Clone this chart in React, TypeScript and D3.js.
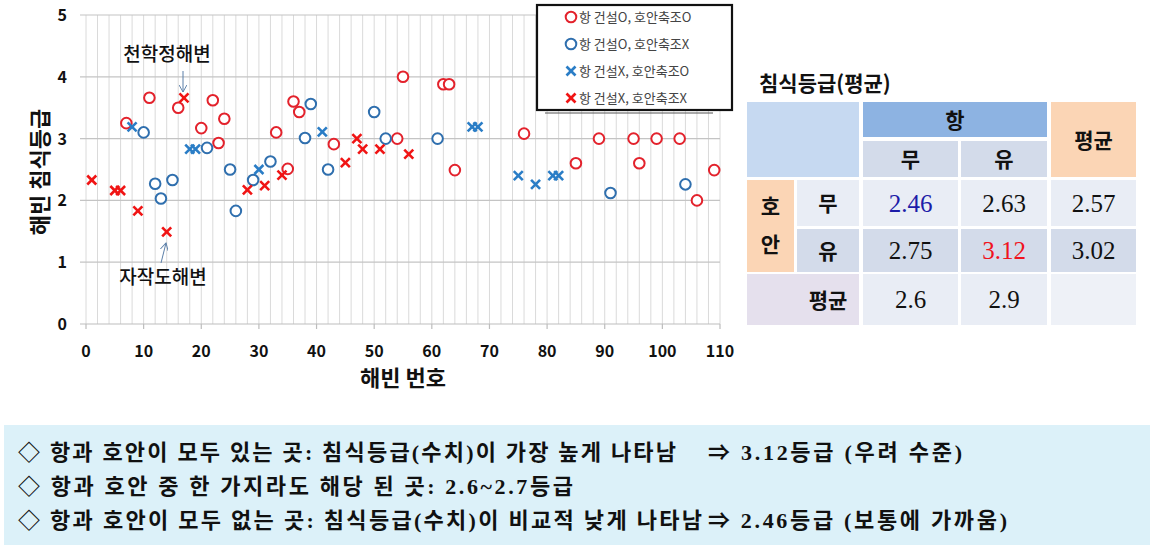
import React from "react";
import * as d3 from "d3";

// ---- data ----
const redCircleX = [7, 11, 16, 20, 22, 23, 24, 33, 35, 36, 37, 43, 54, 55, 62, 63, 64, 76, 85, 89, 95, 96, 99, 103, 106, 109];
const redCircleY = [3.25, 3.66, 3.5, 3.17, 3.62, 2.93, 3.32, 3.1, 2.51, 3.6, 3.43, 2.91, 3.0, 4.0, 3.88, 3.88, 2.49, 3.08, 2.6, 3.0, 3.0, 2.6, 3.0, 3.0, 2.0, 2.49];
const blueCircleX = [10, 12, 13, 15, 21, 25, 26, 29, 32, 38, 39, 42, 50, 52, 61, 91, 104];
const blueCircleY = [3.1, 2.27, 2.03, 2.33, 2.85, 2.5, 1.83, 2.33, 2.63, 3.01, 3.56, 2.5, 3.43, 3.0, 3.0, 2.12, 2.26];
const blueCrossX = [8, 18, 19, 30, 41, 67, 68, 75, 78, 81, 82];
const blueCrossY = [3.19, 2.83, 2.83, 2.5, 3.11, 3.19, 3.19, 2.4, 2.26, 2.4, 2.4];
const redCrossX = [1, 5, 6, 9, 14, 17, 28, 31, 34, 45, 47, 48, 51, 56];
const redCrossY = [2.33, 2.16, 2.16, 1.83, 1.49, 3.66, 2.17, 2.24, 2.41, 2.61, 3.0, 2.83, 2.83, 2.75];

const legendLabels = ["항 건설O, 호안축조O", "항 건설O, 호안축조X", "항 건설X, 호안축조O", "항 건설X, 호안축조X"];
const xTicks = [0, 10, 20, 30, 40, 50, 60, 70, 80, 90, 100, 110];
const yTicks = [0, 1, 2, 3, 4, 5];

const tableTitle = "침식등급(평균)";
const tableValues = [
  ["2.46", "2.63", "2.57"],
  ["2.75", "3.12", "3.02"],
  ["2.6", "2.9", ""],
];
const notes = [
  "◇ 항과 호안이 모두 있는 곳: 침식등급(수치)이 가장 높게 나타남",
  "◇ 항과 호안 중 한 가지라도 해당 된 곳: 2.6~2.7등급",
  "◇ 항과 호안이 모두 없는 곳: 침식등급(수치)이 비교적 낮게 나타남",
];
const noteTails = ["⇒ 3.12등급 (우려 수준)", "", "⇒ 2.46등급 (보통에 가까움)"];

const KR = "'Noto Sans CJK KR', 'Noto Sans', sans-serif";
const SERIF = "'Liberation Serif', 'DejaVu Serif', serif";
const NOTE_FONT = "'Liberation Serif', 'Noto Sans CJK KR', serif";

const RED_C = "#e3222c";
const RED_X = "#f01414";
const BLUE_C = "#2f6fae";
const BLUE_X = "#2a7dc6";

function Circle({ cx, cy, color }: { cx: number; cy: number; color: string }) {
  return <circle cx={cx} cy={cy} r={5.3} fill="white" stroke={color} strokeWidth={2} />;
}
function Cross({ cx, cy, color }: { cx: number; cy: number; color: string }) {
  const s = 4.5;
  return (
    <g stroke={color} strokeWidth={2.6}>
      <line x1={cx - s} y1={cy - s} x2={cx + s} y2={cy + s} />
      <line x1={cx - s} y1={cy + s} x2={cx + s} y2={cy - s} />
    </g>
  );
}

export default function App() {
  const x = d3.scaleLinear().domain([0, 110]).range([86, 720]);
  const y = d3.scaleLinear().domain([0, 5]).range([324, 15]);
  const minor = d3.range(0, 111, 2);

  // table geometry
  const cols = [[747, 794], [797, 859], [863, 958], [961, 1047], [1051, 1136]];
  const rows = [[102, 137], [141, 177], [180, 226], [229, 272], [274, 325]];
  const cell = (c0: number, c1: number, r0: number, r1: number, fill: string, key: string) => (
    <rect key={key} x={cols[c0][0]} y={rows[r0][0]} width={cols[c1][1] - cols[c0][0]} height={rows[r1][1] - rows[r0][0]} fill={fill} />
  );
  const cx = (c: number) => (cols[c][0] + cols[c][1]) / 2;
  const cy = (r: number) => (rows[r][0] + rows[r][1]) / 2;

  const noteLens = [658, 555, 684];
  const noteYs = [460, 494, 528];
  const tailLens = [254, 0, 299];

  return (
    <svg width={1150} height={551} style={{ position: "absolute", left: 0, top: 0, background: "white" }}>
      <defs>
        <marker id="arr" viewBox="0 0 10 10" refX="9" refY="5" markerWidth="8" markerHeight="8" orient="auto-start-reverse">
          <path d="M0,0 L9,5 L0,10" fill="none" stroke="#5b7fa8" strokeWidth={1.2} />
        </marker>
      </defs>
      {/* grid */}
      {minor.map((v) => (
        <line key={"v" + v} x1={x(v)} x2={x(v)} y1={y(5)} y2={y(0)} stroke="#dadada" strokeWidth={1} />
      ))}
      {yTicks.map((v) => (
        <line key={"h" + v} x1={80} x2={720} y1={y(v)} y2={y(v)} stroke={v === 0 ? "#bdbdbd" : "#c4c4c4"} strokeWidth={1.2} />
      ))}
      {xTicks.map((v) => (
        <line key={"t" + v} x1={x(v)} x2={x(v)} y1={y(0)} y2={y(0) + 5} stroke="#bdbdbd" strokeWidth={1.2} />
      ))}
      {/* tick labels */}
      {xTicks.map((v) => (
        <text key={"xl" + v} x={x(v)} y={357} textAnchor="middle" fontFamily={KR} fontWeight={700} fontSize={16} fill="#111">
          {v}
        </text>
      ))}
      {yTicks.map((v) => (
        <text key={"yl" + v} x={67} y={y(v) + 6} textAnchor="end" fontFamily={KR} fontWeight={700} fontSize={16} fill="#111">
          {v}
        </text>
      ))}
      <text transform="translate(48,172) rotate(-90)" textAnchor="middle" fontFamily={KR} fontWeight={700} fontSize={22} fill="#111">
        해빈 침식등급
      </text>
      <text x={403} y={386} textAnchor="middle" fontFamily={KR} fontWeight={700} fontSize={22} fill="#111">
        해빈 번호
      </text>

      {/* points */}
      {redCircleX.map((v, i) => <Circle key={"rc" + i} cx={x(v)} cy={y(redCircleY[i])} color={RED_C} />)}
      {blueCircleX.map((v, i) => <Circle key={"bc" + i} cx={x(v)} cy={y(blueCircleY[i])} color={BLUE_C} />)}
      {blueCrossX.map((v, i) => <Cross key={"bx" + i} cx={x(v)} cy={y(blueCrossY[i])} color={BLUE_X} />)}
      {redCrossX.map((v, i) => <Cross key={"rx" + i} cx={x(v)} cy={y(redCrossY[i])} color={RED_X} />)}

      {/* annotations */}
      <text x={167} y={61} textAnchor="middle" fontFamily={KR} fontWeight={500} fontSize={19} fill="#111">천학정해변</text>
      <line x1={183} y1={71} x2={183} y2={92} stroke="#5b7fa8" strokeWidth={1} markerEnd="url(#arr)" />
      <text x={163} y={284} textAnchor="middle" fontFamily={KR} fontWeight={500} fontSize={19} fill="#111">자작도해변</text>
      <line x1={161} y1={263} x2={166} y2={243} stroke="#5b7fa8" strokeWidth={1} markerEnd="url(#arr)" />

      {/* legend */}
      <line x1={545} x2={713} y1={113} y2={113} stroke="#555" strokeWidth={1} />
      <rect x={537} y={5} width={195} height={105} fill="white" stroke="#111" strokeWidth={2.2} />
      {legendLabels.map((lab, i) => {
        const ly = 17 + i * 27;
        const mk =
          i === 0 ? <Circle cx={571} cy={ly} color={RED_C} /> :
          i === 1 ? <Circle cx={571} cy={ly} color={BLUE_C} /> :
          i === 2 ? <Cross cx={571} cy={ly} color={BLUE_X} /> :
          <Cross cx={571} cy={ly} color={RED_X} />;
        return (
          <g key={"lg" + i}>
            {mk}
            <text x={579} y={ly + 4.5} fontFamily={KR} fontSize={13} fill="#444">{lab}</text>
          </g>
        );
      })}

      {/* table */}
      <text x={759} y={91} fontFamily={KR} fontWeight={700} fontSize={21} fill="#111">{tableTitle}</text>
      {cell(0, 1, 0, 1, "#c6d9f1", "tl")}
      {cell(2, 3, 0, 0, "#8db3e2", "hang")}
      {cell(2, 2, 1, 1, "#d3dbea", "mu")}
      {cell(3, 3, 1, 1, "#d3dbea", "yu")}
      {cell(4, 4, 0, 1, "#fbd5b5", "avg")}
      {cell(0, 0, 2, 3, "#fbd5b5", "hoan")}
      {cell(1, 1, 2, 2, "#e9edf5", "r1l")}
      {cell(2, 2, 2, 2, "#e9edf5", "r1a")}
      {cell(3, 3, 2, 2, "#e9edf5", "r1b")}
      {cell(4, 4, 2, 2, "#e9edf5", "r1c")}
      {cell(1, 1, 3, 3, "#d3dbea", "r2l")}
      {cell(2, 2, 3, 3, "#d3dbea", "r2a")}
      {cell(3, 3, 3, 3, "#d3dbea", "r2b")}
      {cell(4, 4, 3, 3, "#d3dbea", "r2c")}
      {cell(0, 1, 4, 4, "#e5e0ed", "r3l")}
      {cell(2, 2, 4, 4, "#e9edf5", "r3a")}
      {cell(3, 3, 4, 4, "#e9edf5", "r3b")}
      {cell(4, 4, 4, 4, "#eef1f7", "r3c")}
      <g fontFamily={KR} fontWeight={700} fontSize={21} fill="#111" textAnchor="middle">
        <text x={955} y={cy(0) + 8}>항</text>
        <text x={cx(2)} y={cy(1) + 8}>무</text>
        <text x={cx(3)} y={cy(1) + 8}>유</text>
        <text x={cx(4)} y={(rows[0][0] + rows[1][1]) / 2 + 8}>평균</text>
        <text x={cx(0)} y={214}>호</text>
        <text x={cx(0)} y={252}>안</text>
        <text x={cx(1)} y={cy(2) + 8}>무</text>
        <text x={cx(1)} y={cy(3) + 8}>유</text>
        <text x={828} y={cy(4) + 8}>평균</text>
      </g>
      <g fontFamily={SERIF} fontSize={25} textAnchor="middle">
        {tableValues.map((row, ri) =>
          row.map((v, ci) => (
            <text key={"tv" + ri + ci} x={cx(ci + 2)} y={cy(ri + 2) + 8.5}
              fill={ri === 0 && ci === 0 ? "#1c1ca8" : ri === 1 && ci === 1 ? "#f0141e" : "#111"}>
              {v}
            </text>
          ))
        )}
      </g>

      {/* notes */}
      <rect x={4} y={425} width={1146} height={120} fill="#dcf1f9" />
      {notes.map((t, i) => (
        <text key={"n" + i} x={18} y={noteYs[i]} fontFamily={NOTE_FONT} fontWeight={700} fontSize={22} fill="#111"
          textLength={noteLens[i]} lengthAdjust="spacing">{t}</text>
      ))}
      {noteTails.map((t, i) =>
        t ? (
          <text key={"nt" + i} x={708} y={noteYs[i]} fontFamily={NOTE_FONT} fontWeight={700} fontSize={22} fill="#111"
            textLength={tailLens[i]} lengthAdjust="spacing">{t}</text>
        ) : null
      )}
    </svg>
  );
}
